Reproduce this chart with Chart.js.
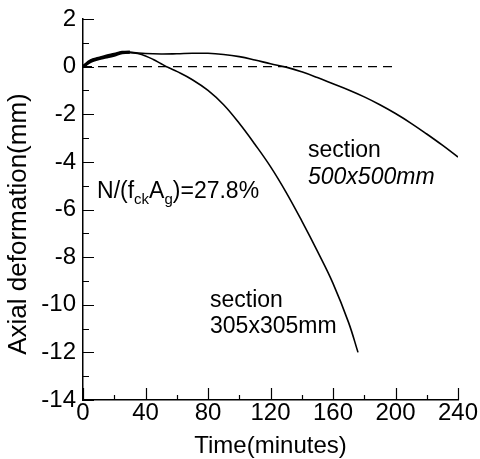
<!DOCTYPE html>
<html>
<head>
<meta charset="utf-8">
<script src="https://cdn.jsdelivr.net/npm/chart.js@4"></script>
<style>
  html, body { margin: 0; padding: 0; background: #fff; }
  #wrap { width: 480px; height: 459px; }
</style>
</head>
<body>
<div id="wrap"><canvas id="chart" width="480" height="459"></canvas></div>
<script>
// data
const time305 = [0, 5, 10, 15, 20, 25, 30, 35, 40, 45, 50, 55, 60, 70, 80, 90, 100, 110, 120, 130, 140, 150, 160, 170, 176];
const def305 = [0, 0.25, 0.35, 0.45, 0.52, 0.6, 0.6, 0.55, 0.45, 0.3, 0.12, -0.05, -0.2, -0.55, -1.0, -1.6, -2.38, -3.26, -4.2, -5.28, -6.48, -7.75, -9.1, -10.75, -12.0];

const time500 = [0, 5, 10, 15, 20, 25, 30, 40, 50, 60, 70, 80, 90, 100, 110, 120, 130, 140, 150, 160, 170, 180, 190, 200, 210, 220, 230, 240];
const def500 = [0, 0.22, 0.33, 0.4, 0.48, 0.58, 0.6, 0.55, 0.53, 0.54, 0.56, 0.56, 0.51, 0.42, 0.28, 0.12, -0.02, -0.22, -0.46, -0.72, -0.98, -1.27, -1.6, -1.97, -2.38, -2.83, -3.3, -3.8];

const zeroTime = [0, 200];
const zeroDef = [0, 0];

const FONT = "'Liberation Sans', Arial, sans-serif";
Chart.defaults.font.family = FONT;
Chart.defaults.color = "#000";

const toPoints = (xs, ys) => xs.map((x, i) => ({ x: x, y: ys[i] }));

// thicker, noisy start of the records
const startWidth = (ctx) => (ctx.p0.parsed.x < 30 ? 3 : 1.6);

// inward ticks on left and bottom axes
const inwardTicks = {
  id: "inwardTicks",
  afterDraw(chart) {
    const { ctx, chartArea, scales } = chart;
    ctx.save();
    ctx.strokeStyle = "#000";
    ctx.lineWidth = 1.2;
    ctx.beginPath();
    for (let v = -14; v <= 2; v++) {
      const y = Math.round(scales.y.getPixelForValue(v)) + 0.5;
      const len = v % 2 === 0 ? 11 : 6;
      ctx.moveTo(chartArea.left, y);
      ctx.lineTo(chartArea.left + len, y);
    }
    for (let t = 0; t <= 240; t += 20) {
      const x = Math.round(scales.x.getPixelForValue(t)) + 0.5;
      const len = t % 40 === 0 ? 12 : 5;
      ctx.moveTo(x, chartArea.bottom);
      ctx.lineTo(x, chartArea.bottom - len);
    }
    ctx.stroke();

    // y axis title, sits a bit below the axis centre in the original
    ctx.font = "26px " + FONT;
    ctx.fillStyle = "#000";
    ctx.textAlign = "center";
    ctx.textBaseline = "middle";
    ctx.translate(19, 224);
    ctx.rotate(-Math.PI / 2);
    ctx.fillText("Axial deformation(mm)", 0, 0);
    ctx.restore();
  }
};

// text notes placed in data coordinates
const notes = {
  id: "notes",
  afterDatasetsDraw(chart) {
    const { ctx, scales } = chart;
    const px = (t) => scales.x.getPixelForValue(t);
    const py = (d) => scales.y.getPixelForValue(d);
    ctx.save();
    ctx.fillStyle = "#000";
    ctx.textBaseline = "alphabetic";
    ctx.textAlign = "left";

    ctx.font = "23px " + FONT;
    ctx.fillText("section", px(144), py(-3.79));
    ctx.fillText("section", px(81.3), py(-10.1));
    ctx.fillText("305x305mm", px(81.3), py(-11.2));
    ctx.font = "italic 23px " + FONT;
    ctx.fillText("500x500mm", px(144), py(-4.92));

    // N/(f_ck A_g)=27.8%
    let x = px(9);
    const base = py(-5.5);
    const big = "23px " + FONT;
    const small = "15px " + FONT;
    const parts = [["N/(f", big, 0], ["ck", small, 6], ["A", big, 0], ["g", small, 6], [")=27.8%", big, 0]];
    parts.forEach(([txt, f, dy]) => {
      ctx.font = f;
      ctx.fillText(txt, x, base + dy);
      x += ctx.measureText(txt).width;
    });
    ctx.restore();
  }
};

new Chart(document.getElementById("chart"), {
  type: "line",
  data: {
    datasets: [
      {
        data: toPoints(time305, def305),
        borderColor: "#000", borderWidth: 1.6, pointRadius: 0,
        tension: 0.4,
        segment: { borderWidth: startWidth }
      },
      {
        data: toPoints(time500, def500),
        borderColor: "#000", borderWidth: 1.6, pointRadius: 0,
        tension: 0.4,
        segment: { borderWidth: startWidth }
      },
      {
        data: toPoints(zeroTime, zeroDef),
        borderColor: "#000", borderWidth: 1.4, pointRadius: 0,
        borderDash: [9, 6]
      }
    ]
  },
  options: {
    responsive: false,
    animation: false,
    layout: { padding: { top: 16, right: 22, left: 0, bottom: 0 } },
    plugins: { legend: { display: false }, tooltip: { enabled: false } },
    scales: {
      x: {
        type: "linear", min: 0, max: 240,
        grid: { drawOnChartArea: false, drawTicks: false },
        border: { display: true, color: "#000", width: 1.5 },
        ticks: { stepSize: 40, padding: 1, font: { size: 24, lineHeight: 1 }, maxRotation: 0 },
        title: { display: true, text: "Time(minutes)", font: { size: 24, lineHeight: 1.05 }, padding: { top: 0, bottom: 0 } },
        afterFit: (s) => { s.height = 59; }
      },
      y: {
        type: "linear", min: -14, max: 2,
        grid: { drawOnChartArea: false, drawTicks: false },
        border: { display: true, color: "#000", width: 1.5 },
        ticks: { stepSize: 2, padding: 7, font: { size: 24, lineHeight: 1 } },
        afterFit: (s) => { s.width = 83; }
      }
    }
  },
  plugins: [inwardTicks, notes]
});
</script>
</body>
</html>
